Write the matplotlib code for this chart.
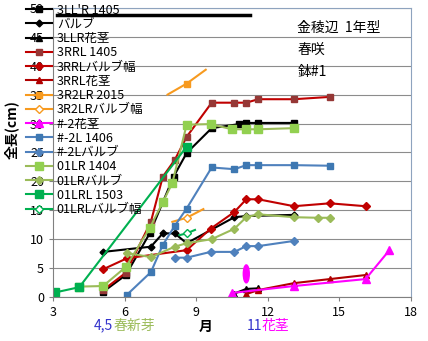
import matplotlib
matplotlib.use('Agg')
import matplotlib.pyplot as plt
from matplotlib.patches import Ellipse

plt.rcParams['font.family'] = ['Noto Sans CJK JP', 'DejaVu Sans']

# 月ごとの測定値 (cm)
m_3llr_1405 = [5.1, 6.05, 7.05, 8.05, 8.6, 9.65, 10.8, 11.1, 11.6, 13.1]
v_3llr_1405 = [0.9, 3.8, 11.0, 20.8, 24.9, 29.2, 29.9, 30.1, 30.1, 30.1]
m_3llr_bulb = [5.1, 7.1, 7.6, 8.1, 8.6, 10.6, 11.1, 13.1]
v_3llr_bulb = [7.8, 8.7, 11.0, 11.0, 9.3, 13.8, 14.0, 14.2]
m_3llr_stem = [10.6, 11.1, 11.6]
v_3llr_stem = [0.6, 1.4, 1.5]

m_3rrl_1405 = [5.1, 6.05, 7.1, 7.6, 8.1, 8.6, 9.65, 10.6, 11.1, 11.6, 13.1, 14.6]
v_3rrl_1405 = [1.2, 4.2, 13.0, 20.8, 23.7, 27.7, 33.6, 33.6, 33.6, 34.2, 34.2, 34.6]
m_3rrl_bulb = [5.1, 6.1, 8.6, 9.6, 10.6, 11.1, 11.6, 13.1, 14.6, 16.1]
v_3rrl_bulb = [4.8, 6.7, 8.1, 11.8, 14.7, 16.9, 16.9, 15.7, 16.2, 15.7]
m_3rrl_stem = [11.1, 11.6, 13.1, 14.6, 16.1]
v_3rrl_stem = [0.5, 1.2, 2.4, 3.1, 3.8]

m_3r2lr_2015 = [7.8, 8.6, 9.4]
v_3r2lr_2015 = [35.0, 36.9, 39.3]
m_3r2lr_bulb = [8.0, 8.6, 9.3]
v_3r2lr_bulb = [13.0, 13.7, 15.2]

m_n2_stem = [10.5, 13.1, 16.1, 17.1]
v_n2_stem = [0.7, 1.9, 3.1, 8.1]
m_n2l_1406 = [6.1, 7.1, 7.6, 8.1, 8.6, 9.65, 10.6, 11.1, 11.6, 13.1, 14.6]
v_n2l_1406 = [0.4, 4.3, 9.0, 12.3, 15.3, 22.4, 22.1, 22.8, 22.8, 22.8, 22.7]
m_n2l_bulb = [8.1, 8.6, 9.6, 10.6, 11.1, 11.6, 13.1]
v_n2l_bulb = [6.8, 6.8, 7.8, 7.8, 8.8, 8.8, 9.7]

m_01lr_1404 = [4.1, 5.1, 6.05, 7.05, 7.6, 8.0, 8.6, 9.6, 10.5, 11.1, 11.6, 13.1]
v_01lr_1404 = [1.8, 1.9, 5.2, 11.9, 16.4, 19.7, 29.8, 29.9, 29.0, 29.0, 29.0, 29.2]
m_01lr_bulb = [6.1, 7.1, 8.1, 8.6, 9.65, 10.6, 11.1, 11.6, 13.1, 14.1, 14.6]
v_01lr_bulb = [7.6, 6.9, 8.7, 9.3, 10.0, 11.8, 13.8, 14.3, 13.8, 13.7, 13.7]
m_01lrl_1503 = [3.1, 4.1, 8.6]
v_01lrl_1503 = [0.8, 1.7, 26.0]
m_01lrl_bulb = [8.3, 8.6, 8.95]
v_01lrl_bulb = [10.7, 11.0, 11.6]

# 上端の太線
m_top_bar = [3.17, 11.24]
v_top_bar = [48.8, 48.8]

fig = plt.figure(figsize=(4.28, 3.41), dpi=100)
ax = fig.add_axes([0.124, 0.129, 0.836, 0.848])

ax.set_xlim(3, 18)
ax.set_ylim(0, 50)
ax.set_xticks(range(3, 19, 3))
ax.set_yticks(range(0, 51, 5))
ax.grid(axis='y', color='#8c8c8c', linewidth=0.8)
ax.set_axisbelow(True)
ax.tick_params(labelsize=9, length=3, color='#808080')
for s in ['left', 'bottom']:
    ax.spines[s].set_color('#808080')
for s in ['right', 'top']:
    ax.spines[s].set_color('#8ea3be')

lw = 1.5
ax.plot(m_top_bar, v_top_bar, color='black', lw=2.5)

ax.plot(m_3llr_1405, v_3llr_1405, color='black', lw=lw, marker='s', ms=4.5, label="3LL'R 1405")
ax.plot(m_3llr_bulb, v_3llr_bulb, color='black', lw=lw, marker='D', ms=3.5, label='バルブ')
ax.plot(m_3llr_stem, v_3llr_stem, color='black', lw=lw, marker='^', ms=4.5, label='3LLR花茎')
ax.plot(m_3rrl_1405, v_3rrl_1405, color='#C00000', lw=lw, marker='s', ms=5,
        mfc='#953735', mec='#953735', label='3RRL 1405')
ax.plot(m_3rrl_bulb, v_3rrl_bulb, color='#C00000', lw=lw, marker='D', ms=4, label='3RRLバルブ幅')
ax.plot(m_3rrl_stem, v_3rrl_stem, color='#B00000', lw=lw, marker='^', ms=4.5, label='3RRL花茎')
ax.plot(m_3r2lr_2015, v_3r2lr_2015, color='#F79A1F', lw=lw, marker='s', ms=5,
        markevery=[1], label='3R2LR 2015')
ax.plot(m_3r2lr_bulb, v_3r2lr_bulb, color='#F79A1F', lw=lw, marker='D', ms=4,
        mfc='white', markevery=[1], label='3R2LRバルブ幅')
ax.plot(m_n2_stem, v_n2_stem, color='#FF00FF', lw=lw, marker='^', ms=5.5, label='#-2花茎')
ax.plot(m_n2l_1406, v_n2l_1406, color='#4F81BD', lw=lw, marker='s', ms=5,
        mfc='#3E78B2', mec='#3E78B2', label='#-2L 1406')
ax.plot(m_n2l_bulb, v_n2l_bulb, color='#4F81BD', lw=lw, marker='D', ms=4, label='#-2Lバルブ')
ax.plot(m_01lr_1404, v_01lr_1404, color='#9BBB59', lw=lw, marker='s', ms=5.5,
        mfc='#92D050', mec='#92D050', label='01LR 1404')
ax.plot(m_01lr_bulb, v_01lr_bulb, color='#9BBB59', lw=lw, marker='D', ms=4, label='01LRバルブ')
ax.plot(m_01lrl_1503, v_01lrl_1503, color='#00B050', lw=lw, marker='s', ms=5.5, label='01LRL 1503')
ax.plot(m_01lrl_bulb, v_01lrl_bulb, color='#00B050', lw=lw, marker='D', ms=4,
        mfc='white', markevery=[1], label='01LRLバルブ幅')

# 花茎の位置を示す楕円
ax.add_patch(Ellipse((11.1, 4.0), 0.25, 3.1, color='#FF00FF', zorder=5, clip_on=False))

ax.legend(loc='upper left', bbox_to_anchor=(0.045, 1.008), bbox_transform=fig.transFigure,
          frameon=False, fontsize=9, labelspacing=0.1, handlelength=2.1,
          handletextpad=0.4, borderpad=0)

fig.text(0.028, 0.62, '全長(cm)', rotation=90, fontsize=10, fontweight='bold',
         ha='center', va='center')
fig.text(0.48, 0.04, '月', fontsize=10, fontweight='bold', ha='center', va='center')
fig.text(0.218, 0.045, '4,5', fontsize=10, color='#3333CC', ha='left', va='center')
fig.text(0.266, 0.045, '春新芽', fontsize=10, color='#9BBB59', ha='left', va='center')
fig.text(0.576, 0.045, '11', fontsize=10, color='#3333CC', ha='left', va='center')
fig.text(0.612, 0.045, '花茎', fontsize=10, color='#FF00FF', ha='left', va='center')

fig.text(0.695, 0.918, '金稜辺  1年型', fontsize=10, ha='left', va='center')
fig.text(0.695, 0.855, '春咲', fontsize=10, ha='left', va='center')
fig.text(0.695, 0.79, '鉢#1', fontsize=10, ha='left', va='center')

fig.savefig('out.png', dpi=100)
